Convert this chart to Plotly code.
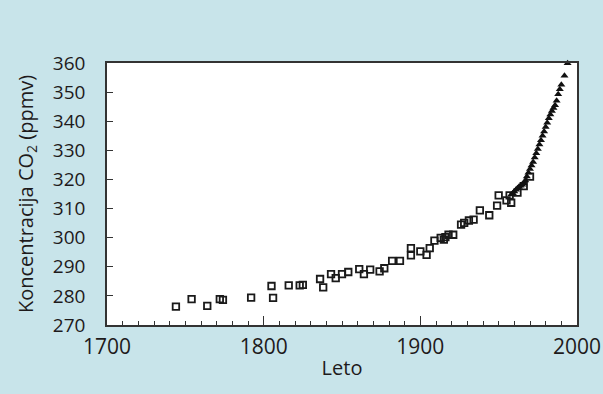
import plotly.graph_objects as go

# Ice-core measurements (open squares)
ice_years = [1744, 1754, 1764, 1772, 1774, 1792, 1805, 1806, 1816, 1823, 1825,
             1836, 1838, 1843, 1846, 1850, 1854, 1861, 1864, 1868, 1874, 1877,
             1882, 1887, 1894, 1894, 1900, 1904, 1906, 1909, 1913, 1915, 1916,
             1918, 1921, 1926, 1928, 1931, 1934, 1938, 1944, 1949, 1950, 1955,
             1957, 1958, 1962, 1966, 1970]
ice_co2 = [276.3, 278.9, 276.6, 278.9, 278.6, 279.4, 283.4, 279.3, 283.6, 283.6, 283.8,
           285.8, 282.9, 287.5, 286.1, 287.5, 288.2, 289.2, 287.5, 289.0, 288.4, 289.5,
           292.0, 292.0, 296.4, 293.9, 295.3, 294.1, 296.4, 299.0, 299.9, 299.3, 300.2,
           301.0, 301.0, 304.5, 305.1, 305.9, 306.2, 309.4, 307.7, 311.0, 314.5, 312.8,
           314.5, 312.0, 315.5, 317.7, 321.0]

# Atmospheric measurements (filled triangles)
atm_years = [1958, 1959, 1960, 1961, 1962, 1963, 1964, 1965, 1966, 1967, 1968, 1969,
             1970, 1971, 1972, 1973, 1974, 1975, 1976, 1977, 1978, 1979, 1980, 1981,
             1982, 1983, 1984, 1985, 1986, 1987, 1988, 1989, 1990, 1992, 1994]
atm_co2 = [314.8, 315.3, 315.9, 316.5, 317.0, 317.5, 317.8, 318.2, 318.6, 319.6, 321.0, 322.3,
           323.6, 324.8, 326.0, 327.5, 329.0, 330.5, 332.0, 333.5, 335.0, 336.5, 338.0, 339.5,
           341.0, 342.3, 343.5, 344.5, 345.5, 347.0, 349.3, 351.0, 352.5, 355.6, 359.9]

x_ticks = [1700, 1800, 1900, 2000]
y_ticks = [270, 280, 290, 300, 310, 320, 330, 340, 350, 360]

txt = "#1e1a1b"
bg = "#c8e4ea"

fig = go.Figure()
fig.add_trace(go.Scatter(
    x=ice_years, y=ice_co2, mode="markers",
    marker=dict(symbol="square-open", size=6.5, color="#1a1a1a", line=dict(width=1.8)),
    showlegend=False, cliponaxis=False))
fig.add_trace(go.Scatter(
    x=atm_years, y=atm_co2, mode="markers",
    marker=dict(symbol="triangle-up", size=7, color="#111111"),
    showlegend=False, cliponaxis=False))

fig.update_layout(
    width=603, height=394,
    margin=dict(l=107, r=26, t=63, b=69),
    paper_bgcolor=bg, plot_bgcolor="white",
    font=dict(family="Open Sans, Noto Sans, sans-serif", color=txt),
    xaxis=dict(
        range=[1700, 2000], tickvals=x_ticks, ticktext=[str(v) for v in x_ticks],
        ticks="inside", ticklen=9, tickwidth=1.2, tickcolor="#333",
        minor=dict(dtick=10, ticks="inside", ticklen=4, tickcolor="#333", tickwidth=1),
        showgrid=False, zeroline=False, automargin=False,
        showline=True, linecolor="#333", linewidth=1.5, mirror=True,
        tickfont=dict(size=21, color=txt), ticklabelstandoff=2,
        title=dict(text="Leto", font=dict(size=20, color=txt), standoff=2),
    ),
    yaxis=dict(
        range=[270, 360], tickvals=y_ticks, ticktext=[str(v) for v in y_ticks],
        ticks="inside", ticklen=6, tickwidth=1.2, tickcolor="#333",
        showgrid=False, zeroline=False, automargin=False,
        showline=True, linecolor="#333", linewidth=1.5, mirror=True,
        tickfont=dict(size=19, color=txt), ticklabelstandoff=16,
        title=dict(text="Koncentracija CO<sub>2</sub> (ppmv)", font=dict(size=20, color=txt), standoff=14),
    ),
)

fig.write_html("out.html", config={"displayModeBar": False},
               post_script="document.body.style.margin='0';")
